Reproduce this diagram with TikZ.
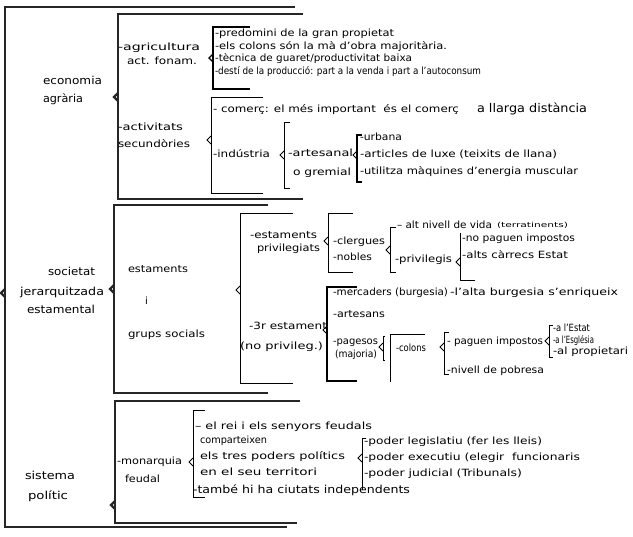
\documentclass[tikz,border=0pt]{standalone}
\usepackage{fontspec}
\setmainfont{DejaVu Sans}
\usepackage{graphicx}
\newcommand\fw[2]{\resizebox{#1bp}{\height}{#2}}
\newcommand\notch[3][thinb]{\draw[#1] (#2,#3) ++(0,-4) -- ++(-4,4) -- ++(4,4);}
\tikzset{
  txt/.style={anchor=west, inner sep=0pt, outer sep=0pt, text height=7.5bp, text depth=2.5bp, font=\fontsize{10}{12}\selectfont},
  big/.style={txt, text height=8.5bp, text depth=2.8bp, font=\fontsize{11}{13}\selectfont},
  small/.style={txt, text height=5.5bp, text depth=1.8bp, font=\fontsize{7}{8}\selectfont},
  thickb/.style={draw=black!85, line width=2.2bp},
  midb/.style={draw=black, line width=1.4bp},
  thinb/.style={draw=black, line width=0.9bp},
}
\begin{document}
\begin{tikzpicture}[x=1bp,y=-1bp]
\fill[white] (0,0) rectangle (633,537);
\useasboundingbox (0,0) rectangle (633,537);
% ---------- brackets ----------
\draw[thickb] (295,7) -- (5,7) -- (5,527) -- (287,527);
\notch[thickb]{5}{293}
\draw[thickb] (303,14) -- (118,14) -- (118,199) -- (303,199);
\notch[thickb]{118}{97}
\draw[thickb] (268,205) -- (114,205) -- (114,393) -- (268,393);
\notch[thickb]{114}{289}
\draw[thickb] (300,401) -- (115,401) -- (115,523) -- (297,523);
\notch[thickb]{115}{505}
% economia
\draw[midb] (250,27) -- (213,27) -- (213,89) -- (250,89);
\notch[midb]{213}{58}
\draw[thinb] (263,97) -- (211,97) -- (211,193) -- (263,193);
\notch{211}{140}
\draw[thinb] (290,122) -- (284,122) -- (284,188) -- (290,188);
\notch{284}{155}
\draw[midb] (362,135) -- (357,135) -- (357,182) -- (362,182);
\notch{357}{155}
% societat
\draw[thinb] (293,213) -- (240,213) -- (240,383) -- (293,383);
\notch{240}{290}
\draw[thinb] (353,213) -- (328,213) -- (328,272) -- (353,272);
\notch{328}{241}
\draw[thinb] (396,227) -- (390,227) -- (390,272) -- (396,272);
\notch{390}{250}
\draw[thinb] (460,233) -- (460,280) -- (475,280);
\notch{460}{262}
\draw[midb] (357,287) -- (327,287) -- (327,381) -- (357,381);
\notch{327}{330}
\draw[thinb] (385,336) -- (383,336) -- (383,360) -- (385,360);
\notch{383}{347}
\draw[thinb] (425,334) -- (390,334) -- (390,382);
\draw[thinb] (449,332) -- (444,332) -- (444,374) -- (449,374);
\notch{444}{347}
\draw[thinb] (553,325) -- (549,325) -- (549,357) -- (553,357);
\notch{549}{341}
% sistema
\draw[thinb] (205,410) -- (193,410) -- (193,497) -- (205,497);
\notch{193}{462}
\draw[thinb] (366,438) -- (362,438) -- (362,490);
\notch{362}{458}
% ---------- level 1 ----------
\node[big] (eco1) at (43,82) {\fw{59}{economia}};
\node[big] (eco2) at (43,100) {\fw{40}{agrària}};
\node[big] (soc1) at (48,273) {\fw{47}{societat}};
\node[big] (soc2) at (20,293) {\fw{84}{jerarquitzada}};
\node[big] (soc3) at (27,311) {\fw{68}{estamental}};
\node[big] (sis1) at (25,477) {\fw{50}{sistema}};
\node[big] (sis2) at (28,497) {\fw{40}{polític}};
% ---------- level 2 ----------
\node[txt] (agr1) at (118,48) {\fw{82}{-agricultura}};
\node[txt] (agr2) at (127,62) {\fw{70}{act. fonam.}};
\node[txt] (act1) at (118,128) {\fw{65}{-activitats}};
\node[txt] (act2) at (118,145) {\fw{72}{secundòries}};
\node[txt] (est1) at (128,270) {\fw{60}{estaments}};
\node[txt] (est2) at (145,302) {i};
\node[txt] (est3) at (128,335) {\fw{77}{grups socials}};
\node[txt] (mon1) at (117,462) {\fw{65}{-monarquia}};
\node[txt] (mon2) at (125,480) {\fw{35}{feudal}};
% ---------- economia details ----------
\node[txt] (a1) at (215,34) {\fw{179}{-predomini de la gran propietat}};
\node[txt] (a2) at (215,47) {\fw{232}{-els colons són la mà d'obra majoritària.}};
\node[txt] (a3) at (215,59) {\fw{197}{-tècnica de guaret/productivitat baixa}};
\node[txt] (a4) at (215,72) {\fw{266}{-destí de la producció: part a la venda i part a l'autoconsum}};
\node[txt] (c1) at (213,110) {\fw{246}{- comerç: el més important\ \ és el comerç}};
\node[txt, font=\fontsize{12}{14}\selectfont] (c2) at (477,110) {\fw{110}{a llarga distància}};
\node[txt] (ind) at (213,155) {\fw{57}{-indústria}};
\node[txt] (art1) at (288,154) {\fw{65}{-artesanal}};
\node[txt] (art2) at (293,173) {\fw{58}{o gremial}};
\node[txt] (u1) at (360,138) {\fw{42}{-urbana}};
\node[txt] (u2) at (360,155) {\fw{197}{-articles de luxe (teixits de llana)}};
\node[txt] (u3) at (360,172) {\fw{218}{-utilitza màquines d'energia muscular}};
% ---------- societat details ----------
\node[txt] (ep1) at (250,236) {\fw{67}{-estaments}};
\node[txt] (ep2) at (257,249) {\fw{63}{privilegiats}};
\node[txt] (cl) at (333,242) {\fw{52}{-clergues}};
\node[txt] (nb) at (333,258) {\fw{39}{-nobles}};
\node[txt] (alt) at (397,226) {\fw{95}{– alt nivell de vida}};
\node[small] (ter) at (497,226) {\fw{71}{(terratinents)}};
\node[txt] (pv) at (395,260) {\fw{57}{-privilegis}};
\node[txt] (np) at (462,239) {\fw{113}{-no paguen impostos}};
\node[txt] (ac) at (462,256) {\fw{106}{-alts càrrecs Estat}};
\node[txt] (te1) at (249,327) {\fw{78}{-3r estament}};
\node[txt] (te2) at (240,347) {\fw{83}{(no privileg.)}};
\node[txt] (mer) at (333,293) {\fw{115}{-mercaders (burgesia)}};
\node[txt] (ab) at (450,293) {\fw{168}{-l'alta burgesia s'enriqueix}};
\node[txt] (ars) at (333,315) {\fw{52}{-artesans}};
\node[txt] (pg1) at (333,342) {\fw{45}{-pagesos}};
\node[txt] (pg2) at (335,355) {\fw{42}{(majoria)}};
\node[txt] (col) at (396,349) {\fw{30}{-colons}};
\node[txt] (pi) at (447,342) {\fw{96}{- paguen impostos}};
\node[txt] (nv) at (447,371) {\fw{97}{-nivell de pobresa}};
\node[txt] (e1) at (553,329) {\fw{37}{-a l'Estat}};
\node[txt] (e2) at (553,341) {\fw{41}{-a l'Església}};
\node[txt] (e3) at (553,352) {\fw{75}{-al propietari}};
% ---------- sistema details ----------
\node[txt] (r1) at (195,427) {\fw{177}{– el rei i els senyors feudals}};
\node[txt] (r2) at (200,441) {\fw{67}{comparteixen}};
\node[txt] (r3) at (200,457) {\fw{145}{els tres poders polítics}};
\node[txt] (r4) at (200,473) {\fw{117}{en el seu territori}};
\node[txt, font=\fontsize{11}{13}\selectfont] (r5) at (193,491) {\fw{217}{-també hi ha ciutats independents}};
\node[txt] (p1) at (364,442) {\fw{178}{-poder legislatiu (fer les lleis)}};
\node[txt] (p2) at (364,458) {\fw{216}{-poder executiu (elegir\ \ funcionaris}};
\node[txt] (p3) at (364,474) {\fw{158}{-poder judicial (Tribunals)}};
\end{tikzpicture}
\end{document}
